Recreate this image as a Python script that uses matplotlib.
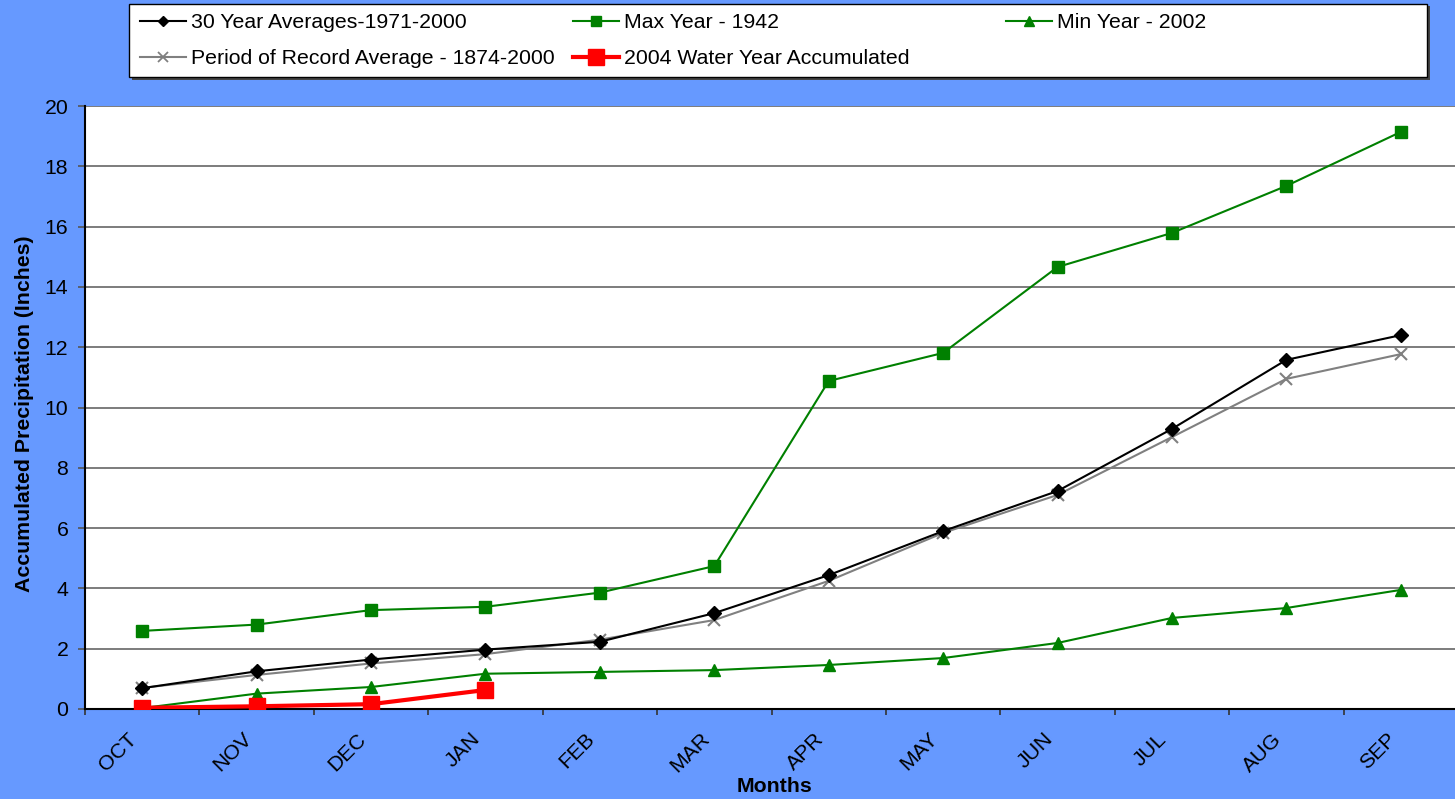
import matplotlib
matplotlib.use("Agg")
import matplotlib.pyplot as plt
from matplotlib.lines import Line2D
from matplotlib.patches import Rectangle
from matplotlib.transforms import ScaledTranslation

plt.rcParams['font.family'] = ['Liberation Sans', 'DejaVu Sans']

months = ["OCT", "NOV", "DEC", "JAN", "FEB", "MAR", "APR", "MAY", "JUN", "JUL", "AUG", "SEP"]
avg_30yr = [0.69, 1.25, 1.64, 1.97, 2.23, 3.18, 4.44, 5.90, 7.23, 9.29, 11.58, 12.40]
por_avg = [0.70, 1.13, 1.51, 1.82, 2.30, 2.95, 4.25, 5.84, 7.10, 9.02, 10.95, 11.77]
max_1942 = [2.59, 2.80, 3.28, 3.39, 3.86, 4.74, 10.88, 11.81, 14.66, 15.79, 17.35, 19.14]
min_2002 = [0.03, 0.51, 0.73, 1.17, 1.23, 1.29, 1.46, 1.69, 2.19, 3.02, 3.35, 3.95]
wy_2004 = [0.04, 0.09, 0.16, 0.63]

BG = "#6699FF"
FS = 15.3
W, H = 1455, 799
fig = plt.figure(figsize=(W / 100, H / 100), dpi=100, facecolor=BG)
ax = fig.add_axes([85 / W, 1 - 709 / H, 1373 / W, 603 / H])
ax.set_facecolor("white")

x = list(range(len(months)))
ax.plot(x, max_1942, color="#008000", lw=1.5, marker="s", ms=8, zorder=3)
ax.plot(x, min_2002, color="#008000", lw=1.5, marker="^", ms=9, zorder=3)
ax.plot(x, por_avg, color="#808080", lw=1.5, marker="x", ms=9, mew=1.5, zorder=4)
ax.plot(x, avg_30yr, color="black", lw=1.5, marker="D", ms=7, zorder=5)
ax.plot(range(len(wy_2004)), wy_2004, color="#FF0000", lw=3, marker="s", ms=11, zorder=6)

ax.set_xlim(-0.5, len(months) - 0.5)
ax.set_ylim(0, 20)
ax.set_yticks(range(0, 21, 2))
ax.yaxis.grid(True, color="#666666", lw=1.2)
ax.set_axisbelow(True)
ax.set_xticks([i - 0.5 for i in range(len(months) + 1)])
ax.set_xticklabels([])
ax.tick_params(axis="x", which="major", length=4.5, width=1.2, direction="out", color="#333333")
ax.tick_params(axis="y", labelsize=FS, length=5, width=1.2, color="#555555", pad=7)
for s in ["top", "right"]:
    ax.spines[s].set_visible(False)
for s in ["left", "bottom"]:
    ax.spines[s].set_linewidth(1.5)
    ax.spines[s].set_color("black")

# rotated month labels, right end just left of the category, slightly below the axis
off = ScaledTranslation(-8 / 100, -27 / 100, fig.dpi_scale_trans)
for i, m in enumerate(months):
    ax.text(i, 0, m, transform=ax.get_xaxis_transform() + off, rotation=45,
            rotation_mode="anchor", ha="right", va="center", fontsize=FS)

ax.set_ylabel("Accumulated Precipitation (Inches)", fontsize=FS, fontweight="bold")
ax.yaxis.set_label_coords(-0.037, 0.49)
fig.text(775 / W, 1 - 787 / H, "Months", fontsize=FS, fontweight="bold", ha="center", va="center")

# Legend box with shadow
lx0, ly0, lx1, ly1 = 129, 4, 1427, 77
fig.patches.append(Rectangle(((lx0 + 2.5) / W, 1 - (ly1 + 2.5) / H), (lx1 - lx0) / W, (ly1 - ly0) / H,
                             transform=fig.transFigure, facecolor="#444444", edgecolor="none", zorder=1))
fig.patches.append(Rectangle((lx0 / W, 1 - ly1 / H), (lx1 - lx0) / W, (ly1 - ly0) / H,
                             transform=fig.transFigure, facecolor="white", edgecolor="black", lw=1.0, zorder=2))

entries = [
    ("30 Year Averages-1971-2000", dict(color="black", lw=1.5, marker="D", ms=5.5), 140, 23),
    ("Max Year - 1942", dict(color="#008000", lw=1.5, marker="s", ms=6.5), 573, 23),
    ("Min Year - 2002", dict(color="#008000", lw=1.5, marker="^", ms=7), 1006, 23),
    ("Period of Record Average - 1874-2000", dict(color="#808080", lw=1.5, marker="x", ms=7, mew=1.3), 140, 59),
    ("2004 Water Year Accumulated", dict(color="#FF0000", lw=3, marker="s", ms=11.5), 573, 59),
]
for label, style, px, py in entries:
    h = Line2D([], [], **style)
    leg = fig.legend([h], [label], loc="center left", bbox_to_anchor=(px / W, 1 - py / H),
                     frameon=False, fontsize=FS, handlelength=2.16, handletextpad=0.24,
                     borderpad=0, borderaxespad=0, markerscale=1)
    leg.set_zorder(3)

fig.savefig("out.png", dpi=100, facecolor=BG)
